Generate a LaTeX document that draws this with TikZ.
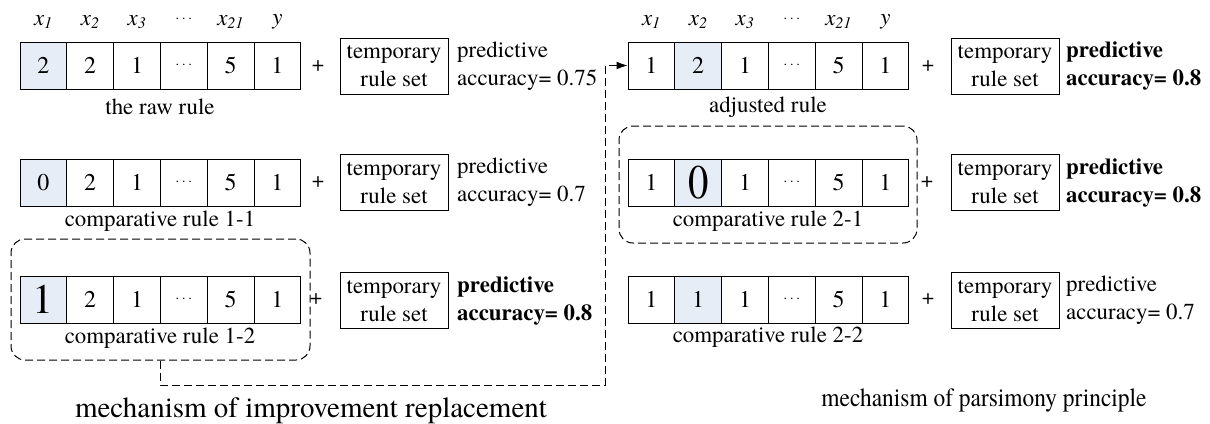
\documentclass[tikz,border=0pt]{standalone}
\usepackage{fontspec}
\setmainfont{TeX Gyre Termes}
\usetikzlibrary{arrows.meta}

\definecolor{hlblue}{RGB}{231,237,247}
\newcommand\fs[2]{\fontsize{#1}{#2}\selectfont}
\newcommand\celldots{{\fs{15}{16}$\cdots$}}
\newcommand\bigone{{\fs{42}{44}1}}
\newcommand\bigzero{\scalebox{0.85}[1]{\fs{48}{50}0}}

% one row of six cells: name prefix, left x, centre y, list of style/value
\newcommand\rulerow[4]{%
  \foreach \st/\val [count=\i] in {#4}{
    \node[cell,\st] (#1\i) at ({#2+46.8*\i-23.4},#3) {\val};
  }%
}
% column headers above a row
\newcommand\headers[3]{%
  \node[hdr] (#1x1)  at ({#2+23.4},#3)   {x\textsubscript{1}};
  \node[hdr] (#1x2)  at ({#2+70.2},#3)   {x\textsubscript{2}};
  \node[hdr] (#1x3)  at ({#2+117},#3)    {x\textsubscript{3}};
  \node[lbl] (#1xd)  at ({#2+163.8},#3-3) {\celldots};
  \node[hdr] (#1x21) at ({#2+210.6},#3)  {x\textsubscript{21}};
  \node[hdr] (#1y)   at ({#2+257.4},#3)  {y};
}

\begin{document}
\begin{tikzpicture}[x=1pt,y=-1pt,
  cell/.style={draw, line width=1pt, minimum width=46.8pt, minimum height=47pt,
    inner sep=0pt, font=\fs{24}{28}},
  hl/.style={fill=hlblue},
  plain/.style={},
  tmpbox/.style={draw, line width=1pt, minimum width=108pt, minimum height=56pt,
    align=center, inner sep=0pt, font=\fs{22.9}{28}},
  acc/.style={anchor=west, align=left, inner sep=0pt, font=\fs{22.9}{28}},
  accb/.style={acc, font=\fs{22.9}{28}\bfseries},
  lbl/.style={inner sep=0pt, font=\fs{22.9}{26}},
  hdr/.style={inner sep=0pt, font=\fs{22.9}{26}\itshape},
  plus/.style={inner sep=0pt, font=\fs{22}{24}},
  dbox/.style={draw, dash pattern=on 8pt off 4pt, line width=1pt, rounded corners=14pt},
  conn/.style={draw, dash pattern=on 8pt off 4pt, line width=1pt,
    -{Latex[length=11pt,width=8pt]}},
  title/.style={inner sep=0pt, anchor=base}
]
\useasboundingbox (0,0) rectangle (1210,423);

% ---------- improvement replacement ----------
\headers{L}{20}{22}
\rulerow{raw}{20}{65.5}{hl/2, plain/2, plain/1, plain/\celldots, plain/5, plain/1}
\node[lbl] (rawlbl) at (160,107) {the raw rule};
\node[plus] (rawp) at (318,66) {+};
\node[tmpbox] (rawt) at (394,66) {temporary\\rule set};
\node[acc] (rawa) at (457,66) {predictive\\accuracy= 0.75};

\rulerow{ca}{20}{182.5}{hl/0, plain/2, plain/1, plain/\celldots, plain/5, plain/1}
\node[lbl] (calbl) at (160,221) {comparative rule 1-1};
\node[plus] (cap) at (318,182.5) {+};
\node[tmpbox] (cat) at (394,182.5) {temporary\\rule set};
\node[acc] (caa) at (457,182.5) {predictive\\accuracy= 0.7};

\rulerow{cb}{20}{299.5}{hl/\bigone, plain/2, plain/1, plain/\celldots, plain/5, plain/1}
\node[lbl] (cblbl) at (160,338) {comparative rule 1-2};
\node[plus] (cbp) at (316,299.5) {+};
\node[tmpbox] (cbt) at (394,300.5) {temporary\\rule set};
\node[accb] (cba) at (457,300.5) {predictive\\accuracy= 0.8};
\node[dbox, minimum width=299pt, minimum height=121pt] (fl) at (160.5,299.5) {};

% ---------- parsimony principle ----------
\headers{R}{628}{22}
\rulerow{ad}{628}{65.5}{plain/1, hl/2, plain/1, plain/\celldots, plain/5, plain/1}
\node[lbl] (adlbl) at (768,107) {adjusted rule};
\node[plus] (adp) at (928,66) {+};
\node[tmpbox] (adt) at (1005,66) {temporary\\rule set};
\node[accb] (ada) at (1066,66) {predictive\\accuracy= 0.8};

\rulerow{cc}{628}{182.5}{plain/1, hl/\bigzero, plain/1, plain/\celldots, plain/5, plain/1}
\node[lbl] (cclbl) at (768,221) {comparative rule 2-1};
\node[plus] (ccp) at (927,182.5) {+};
\node[tmpbox] (cct) at (1005,182.5) {temporary\\rule set};
\node[accb] (cca) at (1066,182.5) {predictive\\accuracy= 0.8};
\node[dbox, minimum width=298pt, minimum height=117pt] (fr) at (768,184.5) {};

\rulerow{cd}{628}{299.5}{plain/1, hl/1, plain/1, plain/\celldots, plain/5, plain/1}
\node[lbl] (cdlbl) at (768,337) {comparative rule 2-2};
\node[plus] (cdp) at (928,299.5) {+};
\node[tmpbox] (cdt) at (1005,300.5) {temporary\\rule set};
\node[acc] (cda) at (1066,300.5) {predictive\\accuracy= 0.7};

% ---------- transfer of the better rule ----------
\coordinate (bend) at (605,385);
\draw[conn] (fl.south) |- (bend) |- (ad1.west);

% ---------- captions ----------
\node[title, font=\fs{29}{30}] (t1) at (311,417) {mechanism of improvement replacement};
\node[title, font=\fs{26}{28}] (t2) at (984,406)
  {\scalebox{0.9}[1]{mechanism of parsimony principle}};
\end{tikzpicture}
\end{document}
